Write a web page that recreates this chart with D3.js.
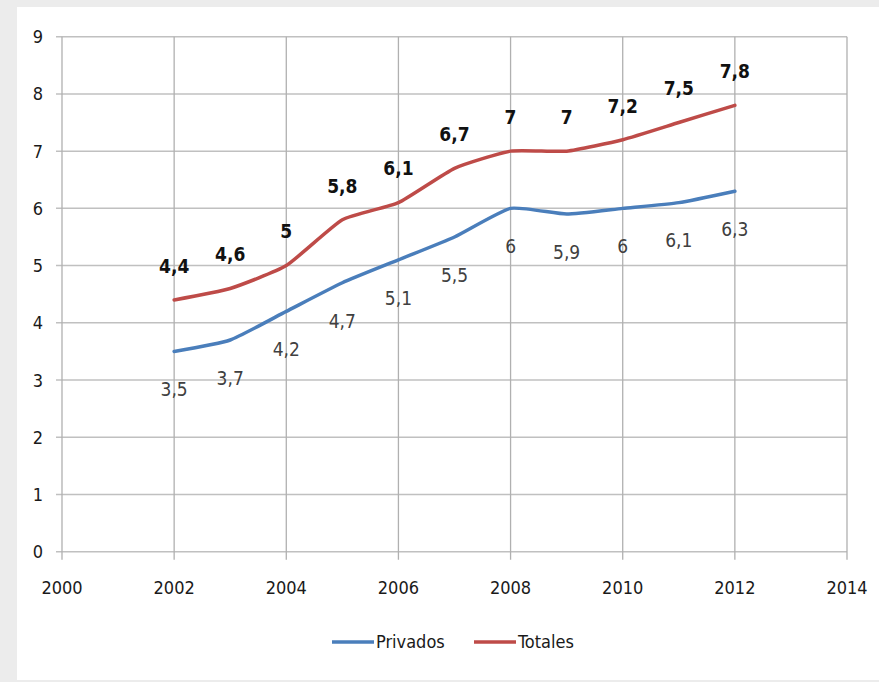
<!DOCTYPE html>
<html><head><meta charset="utf-8">
<script src="https://cdn.jsdelivr.net/npm/d3@7"></script>
<style>
html,body{margin:0;padding:0;background:#ececec;}
svg{display:block;font-family:"DejaVu Sans Condensed","Roboto",sans-serif;}
</style></head>
<body>
<svg id="c" width="879" height="682"></svg>
<script>
const years = [2002,2003,2004,2005,2006,2007,2008,2009,2010,2011,2012];
const privados = [3.5,3.7,4.2,4.7,5.1,5.5,6,5.9,6,6.1,6.3];
const totales = [4.4,4.6,5,5.8,6.1,6.7,7,7,7.2,7.5,7.8];
const xTicks = [2000,2002,2004,2006,2008,2010,2012,2014];
const yTicks = [0,1,2,3,4,5,6,7,8,9];
const seriesNames = ["Privados","Totales"];
const seriesColors = ["#4a7ebb","#be4b48"];

const svg = d3.select("#c");
svg.append("rect").attr("x",17).attr("y",7).attr("width",862).attr("height",673).attr("fill","#ffffff");

const x = d3.scaleLinear().domain([2000,2014]).range([62,847]);
const y = d3.scaleLinear().domain([0,9]).range([551.7,36.7]);
const fmt = v => String(v).replace(".",",");

const grid = svg.append("g");
grid.selectAll("line.h").data(yTicks).join("line")
  .attr("x1",56).attr("x2",x(2014)).attr("y1",d=>y(d)).attr("y2",d=>y(d))
  .attr("stroke","#c0c0c0").attr("stroke-width",1.5);
grid.selectAll("line.v").data(xTicks).join("line")
  .attr("x1",d=>x(d)).attr("x2",d=>x(d)).attr("y1",y(9)).attr("y2",y(0)+8)
  .attr("stroke","#b0b0b0").attr("stroke-width",1.3);

svg.append("g").selectAll("text").data(yTicks).join("text")
  .attr("x",43).attr("y",d=>y(d)).attr("dy","0.36em").attr("text-anchor","end")
  .attr("font-size",18).attr("fill","#1a1a1a").text(d=>d);
svg.append("g").selectAll("text").data(xTicks).join("text")
  .attr("x",d=>x(d)).attr("y",588).attr("dy","0.36em").attr("text-anchor","middle")
  .attr("font-size",18).attr("fill","#1a1a1a").text(d=>d);

const line = d3.line().x(d=>x(d[0])).y(d=>y(d[1])).curve(d3.curveCardinal.tension(0.5));
const allSeries = [privados,totales];
allSeries.forEach((vals,i)=>{
  svg.append("path").datum(years.map((yr,j)=>[yr,vals[j]]))
    .attr("d",line).attr("fill","none").attr("stroke",seriesColors[i])
    .attr("stroke-width",3.5).attr("stroke-linecap","round").attr("stroke-linejoin","round");
});

svg.append("g").selectAll("text").data(years).join("text")
  .attr("x",d=>x(d)).attr("y",(d,i)=>y(privados[i])+38).attr("dy","0.36em")
  .attr("text-anchor","middle").attr("font-size",19).attr("fill","#404040")
  .text((d,i)=>fmt(privados[i]));
svg.append("g").selectAll("text").data(years).join("text")
  .attr("x",d=>x(d)).attr("y",(d,i)=>y(totales[i])-34).attr("dy","0.36em")
  .attr("text-anchor","middle").attr("font-size",19).attr("font-weight","bold").attr("fill","#111")
  .text((d,i)=>fmt(totales[i]));

const legX = [332,474];
seriesNames.forEach((n,i)=>{
  svg.append("line").attr("x1",legX[i]).attr("x2",legX[i]+42).attr("y1",642).attr("y2",642)
    .attr("stroke",seriesColors[i]).attr("stroke-width",3.5);
  svg.append("text").attr("x",legX[i]+44).attr("y",642).attr("dy","0.36em")
    .attr("font-size",18).attr("fill","#1a1a1a").text(n);
});
</script>
</body></html>
